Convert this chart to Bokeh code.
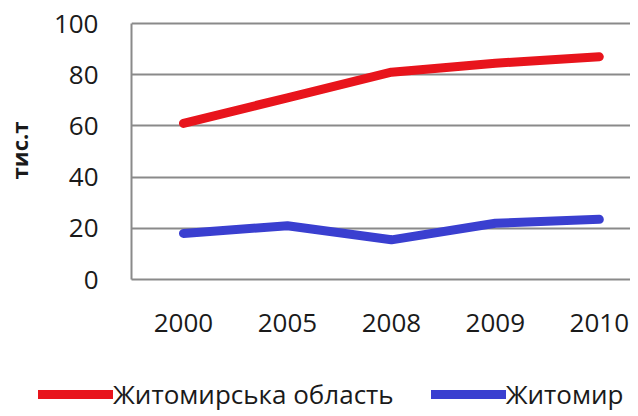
from bokeh.plotting import figure
from bokeh.models import Legend, LegendItem, FixedTicker, Range1d
from bokeh.embed import file_html
from bokeh.resources import INLINE

years = ["2000", "2005", "2008", "2009", "2010"]
oblast = [61, 71, 81, 84.5, 87]
city = [18, 21, 15.5, 22, 23.5]
y_ticks = [0, 20, 40, 60, 80, 100]
series_names = ["Житомирська область", "Житомир"]

xs = list(range(len(years)))
FONT = "Open Sans"
RED = "#e8141c"
BLUE = "#3a3fd0"
TXT = "#1a1a1a"
GRID = "#8a8a8a"

p = figure(width=630, height=350, output_backend="svg", toolbar_location=None,
           x_range=Range1d(-0.5, 4.3), y_range=Range1d(0, 100.8),
           min_border_left=125, min_border_right=0, min_border_top=21,
           min_border_bottom=71)
p.outline_line_color = None
p.background_fill_color = "white"
p.border_fill_color = "white"

p.line(xs, oblast, line_color=RED, line_width=9, line_cap="round", line_join="round")
p.line(xs, city, line_color=BLUE, line_width=9, line_cap="round", line_join="round")

p.xaxis.ticker = FixedTicker(ticks=xs)
p.xaxis.major_label_overrides = {i: y for i, y in enumerate(years)}
p.xaxis.axis_line_color = GRID
p.xaxis.axis_line_width = 2
p.xaxis.major_tick_line_color = None
p.xaxis.minor_tick_line_color = None
p.xaxis.major_label_standoff = 28
p.xaxis.major_label_text_font = FONT
p.xaxis.major_label_text_font_size = "26px"
p.xaxis.major_label_text_color = TXT

p.yaxis.ticker = FixedTicker(ticks=y_ticks)
p.yaxis.bounds = (0, 100)
p.yaxis.axis_line_color = GRID
p.yaxis.axis_line_width = 2
p.yaxis.major_tick_line_color = None
p.yaxis.minor_tick_line_color = None
p.yaxis.major_label_standoff = 27
p.yaxis.major_label_text_font = FONT
p.yaxis.major_label_text_font_size = "26px"
p.yaxis.major_label_text_line_height = 1.0
p.yaxis.major_label_text_color = TXT
p.yaxis.axis_label = "тис.т"
p.yaxis.axis_label_text_font = FONT
p.yaxis.axis_label_text_font_style = "bold"
p.yaxis.axis_label_text_font_size = "22px"
p.yaxis.axis_label_text_color = TXT
p.yaxis.axis_label_standoff = 17

p.xgrid.grid_line_color = None
p.ygrid.grid_line_color = GRID
p.ygrid.grid_line_width = 2

# legend strip below the chart (series drawn outside its visible range; only the legend shows)
lg = figure(width=630, height=66, output_backend="svg", toolbar_location=None,
            x_range=Range1d(0, 1), y_range=Range1d(0, 1),
            min_border_left=0, min_border_right=0, min_border_top=0,
            min_border_bottom=0, x_axis_type=None, y_axis_type=None)
lg.outline_line_color = None
lg.background_fill_color = "white"
lg.border_fill_color = "white"
lr1 = lg.line(xs, oblast, line_color=RED, line_width=9, line_cap="round")
lr2 = lg.line(xs, city, line_color=BLUE, line_width=9, line_cap="round")
legend = Legend(items=[LegendItem(label=series_names[0], renderers=[lr1]),
                       LegendItem(label=series_names[1], renderers=[lr2])],
                orientation="horizontal", location=(38, 4),
                glyph_width=75, glyph_height=30, label_standoff=0, spacing=37,
                padding=0, margin=0, border_line_color=None,
                background_fill_alpha=0,
                label_text_font=FONT, label_text_font_size="26px",
                label_text_color=TXT)
lg.add_layout(legend, "center")

open("out.html", "w").write(file_html([p, lg], INLINE))
